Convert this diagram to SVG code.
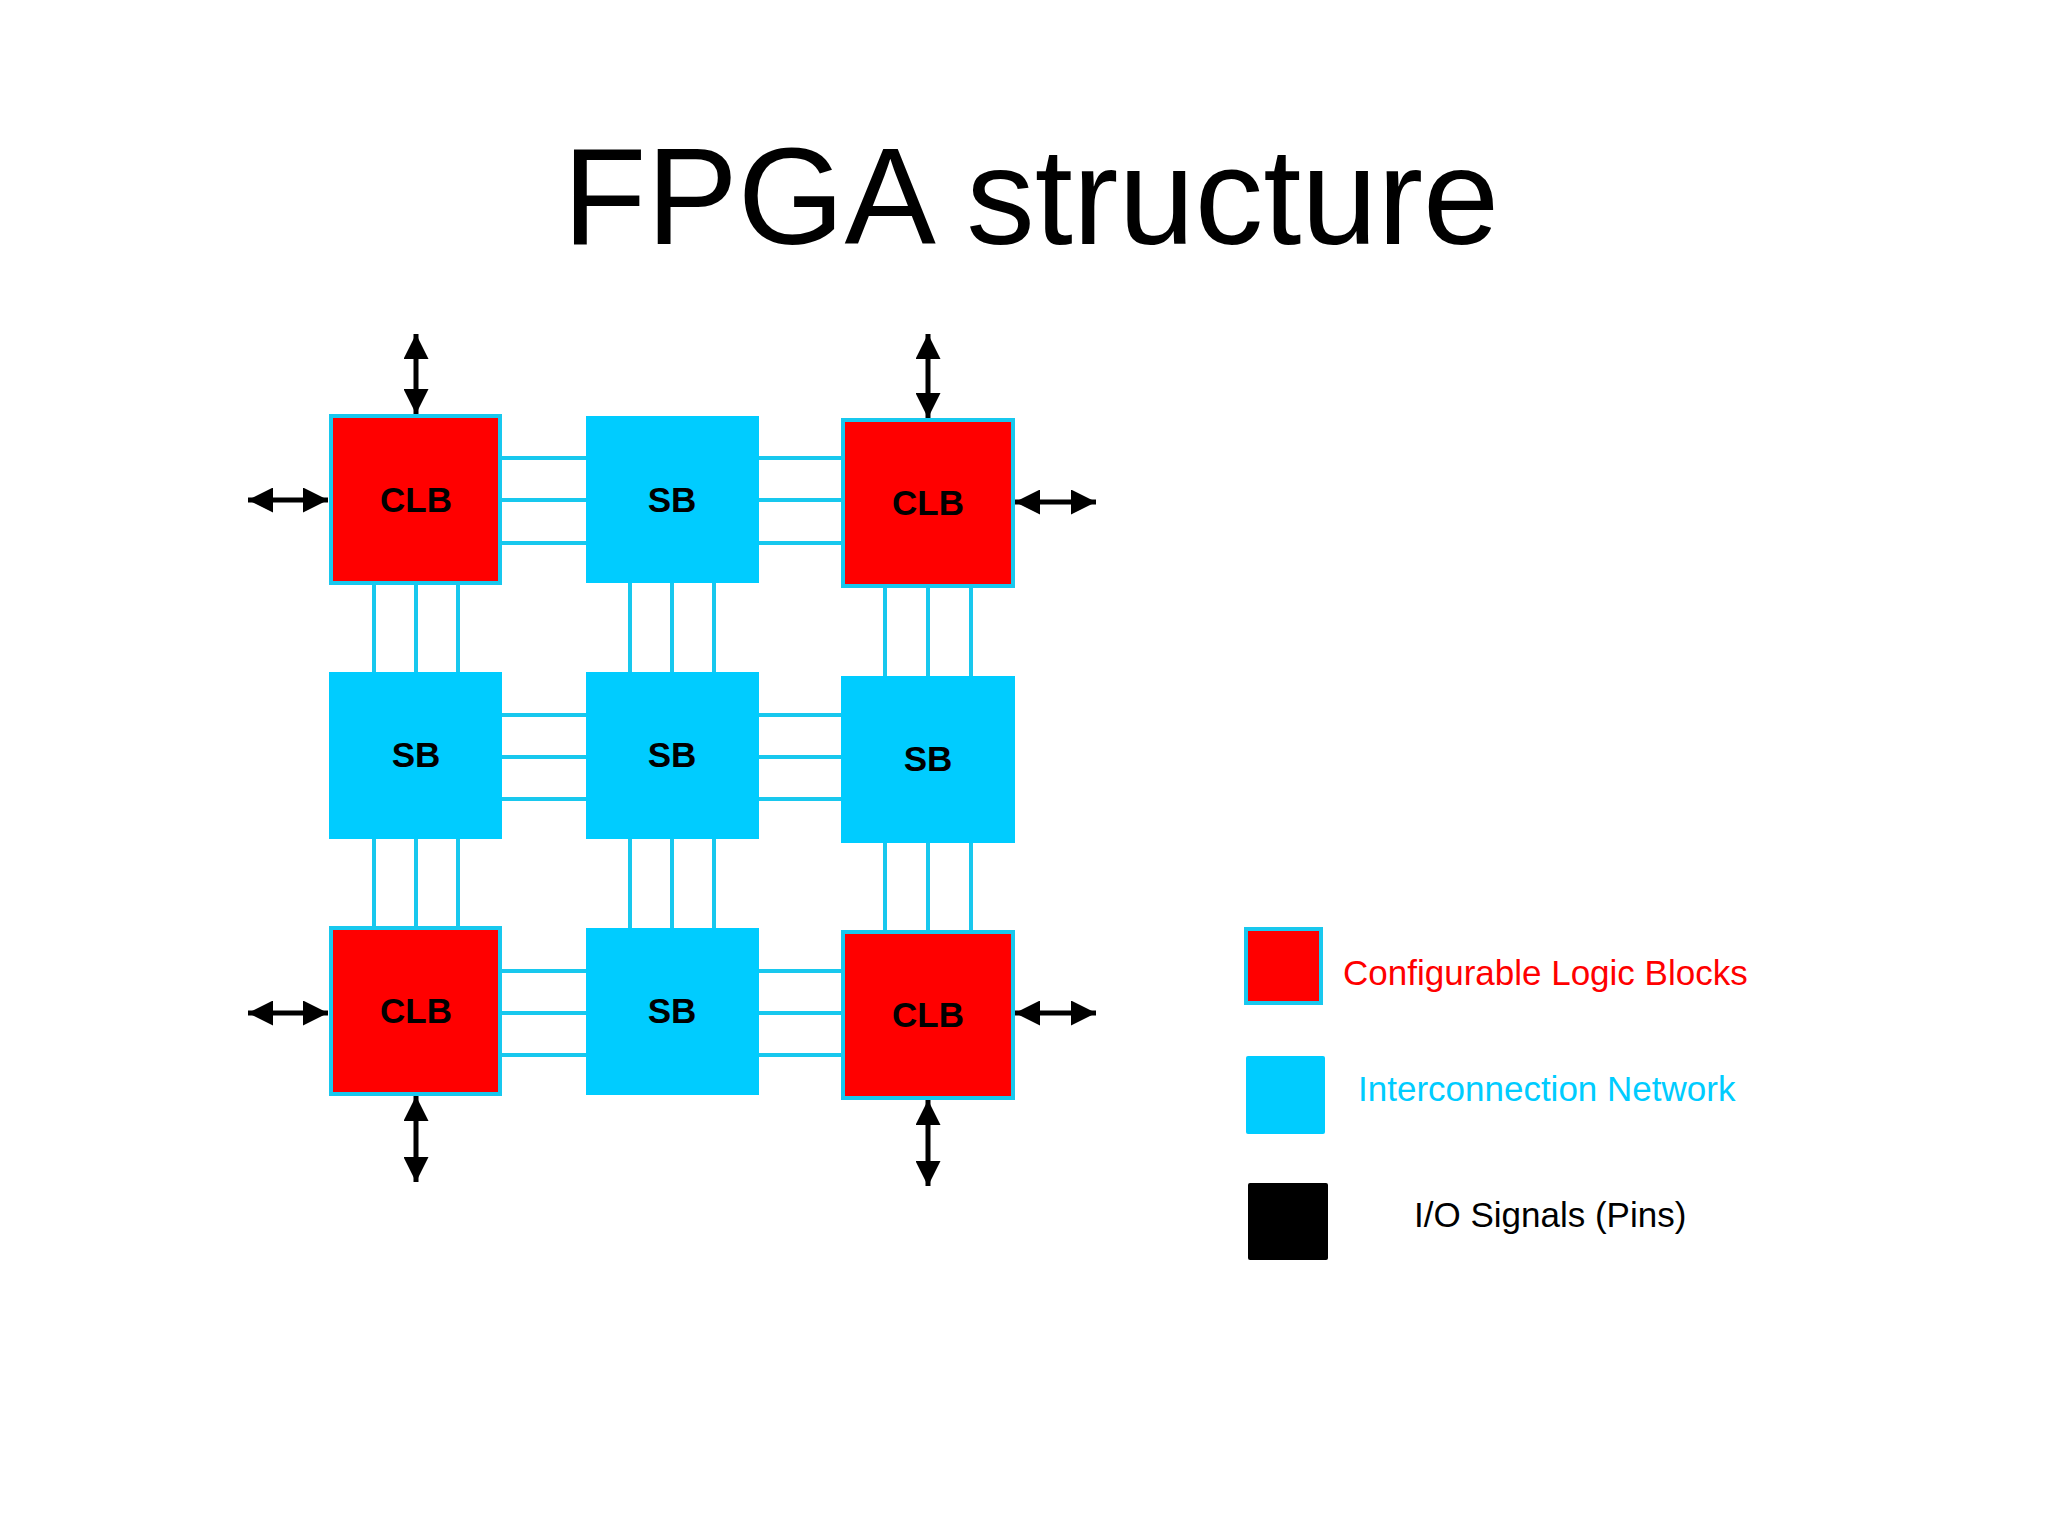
<svg xmlns="http://www.w3.org/2000/svg" width="2048" height="1536" viewBox="0 0 2048 1536">
<style>
.clb{fill:#ff0000;stroke:#18c8ee;stroke-width:4}
.sb{fill:#00ccff}
.lbl{font-family:"Liberation Sans",Arial,sans-serif;font-weight:bold;font-size:35px;text-anchor:middle;fill:#000}
.w{stroke:#18c8ee;stroke-width:4;fill:none}
.io{stroke:#000;stroke-width:5;fill:none;marker-start:url(#ah);marker-end:url(#ah)}
</style>
<defs>
<marker id="ah" viewBox="0 0 10 10" refX="10" refY="5" markerWidth="7" markerHeight="5" markerUnits="strokeWidth" orient="auto-start-reverse"><path d="M0,0 L10,5 L0,10 z" fill="#000"/></marker>
</defs>
<rect width="2048" height="1536" fill="#fff"/>
<text x="1031" y="244" font-family="Liberation Sans,Arial,sans-serif" font-size="137" text-anchor="middle">FPGA structure</text>
<g id="connectors">
<path class="w" d="M500,458H586M500,500H586M500,543H586M759,458H843M759,500H843M759,543H843
M500,715H586M500,757H586M500,799H586M759,715H843M759,757H843M759,799H843
M500,971H586M500,1013H586M500,1055H586M759,971H843M759,1013H843M759,1055H843
M374,583V672M416,583V672M458,583V672M630,583V672M672,583V672M714,583V672M885,586V676M928,586V676M971,586V676
M374,839V928M416,839V928M458,839V928M630,839V928M672,839V928M714,839V928M885,843V932M928,843V932M971,843V932"/>
<path class="io" d="M416,334V414"/>
<path class="io" d="M928,334V418"/>
<path class="io" d="M248,500H328"/>
<path class="io" d="M248,1013H328"/>
<path class="io" d="M1015,502H1096"/>
<path class="io" d="M1015,1013H1096"/>
<path class="io" d="M416,1096V1182"/>
<path class="io" d="M928,1100V1186"/>
</g>
<g id="clb11"><rect class="clb" x="331" y="416" width="169" height="167"/><text class="lbl" x="416" y="512">CLB</text></g>
<g id="sb12"><rect class="sb" x="586" y="416" width="173" height="167"/><text class="lbl" x="672" y="512">SB</text></g>
<g id="clb13"><rect class="clb" x="843" y="420" width="170" height="166"/><text class="lbl" x="928" y="515">CLB</text></g>
<g id="sb21"><rect class="sb" x="329" y="672" width="173" height="167"/><text class="lbl" x="416" y="767">SB</text></g>
<g id="sb22"><rect class="sb" x="586" y="672" width="173" height="167"/><text class="lbl" x="672" y="767">SB</text></g>
<g id="sb23"><rect class="sb" x="841" y="676" width="174" height="167"/><text class="lbl" x="928" y="771">SB</text></g>
<g id="clb31"><rect class="clb" x="331" y="928" width="169" height="166"/><text class="lbl" x="416" y="1023">CLB</text></g>
<g id="sb32"><rect class="sb" x="586" y="928" width="173" height="167"/><text class="lbl" x="672" y="1023">SB</text></g>
<g id="clb33"><rect class="clb" x="843" y="932" width="170" height="166"/><text class="lbl" x="928" y="1027">CLB</text></g>
<g id="legend" font-family="Liberation Sans,Arial,sans-serif" font-size="35">
<rect class="clb" x="1246" y="929" width="75" height="74"/>
<text x="1343" y="985" fill="#ff0000">Configurable Logic Blocks</text>
<rect class="sb" x="1246" y="1056" width="79" height="78" rx="2"/>
<text x="1358" y="1101" fill="#00ccff">Interconnection Network</text>
<rect x="1248" y="1183" width="80" height="77" rx="2" fill="#000"/>
<text x="1414" y="1227" fill="#000">I/O Signals (Pins)</text>
</g>
</svg>
